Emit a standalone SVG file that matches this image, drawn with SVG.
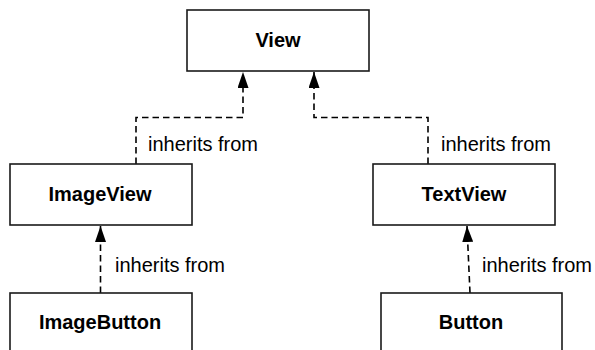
<svg xmlns="http://www.w3.org/2000/svg" width="595" height="350" viewBox="0 0 595 350">
<style>
.box{fill:#fff;stroke:#1a1a1a;stroke-width:1.6}
.name{font-family:"Liberation Sans",Arial,sans-serif;font-weight:bold;font-size:20px;fill:#000;text-anchor:middle}
.lbl{font-family:"Liberation Sans",Arial,sans-serif;font-size:20px;fill:#000}
.edge{fill:none;stroke:#000;stroke-width:1.6;stroke-dasharray:6.5,4}
</style>
<defs>
<marker id="ah" markerUnits="userSpaceOnUse" viewBox="0 0 16 11" markerWidth="16" markerHeight="11" refX="16" refY="5.5" orient="auto">
<path d="M0,0 L16,5.5 L0,11 z" fill="#000"/>
</marker>
</defs>
<rect width="595" height="350" fill="#fff"/>
<g id="connectors">
<path class="edge" d="M136,164 V117.5 H243 V72" marker-end="url(#ah)"/>
<path class="edge" d="M428,164 V117.5 H314 V72" marker-end="url(#ah)"/>
<path class="edge" d="M100.5,293 V226" marker-end="url(#ah)"/>
<path class="edge" d="M470,293 L467,226" marker-end="url(#ah)"/>
<text class="lbl" x="148" y="151">inherits from</text>
<text class="lbl" x="441" y="151">inherits from</text>
<text class="lbl" x="115" y="272">inherits from</text>
<text class="lbl" x="482" y="272">inherits from</text>
</g>
<g id="View">
<rect class="box" x="187" y="10" width="182" height="61"/>
<text class="name" x="278" y="47">View</text>
</g>
<g id="ImageView">
<rect class="box" x="10" y="164" width="182" height="61"/>
<text class="name" x="100" y="201">ImageView</text>
</g>
<g id="TextView">
<rect class="box" x="373" y="164" width="182" height="61"/>
<text class="name" x="464" y="201">TextView</text>
</g>
<g id="ImageButton">
<rect class="box" x="10" y="293" width="182" height="70"/>
<text class="name" x="100" y="329">ImageButton</text>
</g>
<g id="Button">
<rect class="box" x="381" y="293" width="181" height="70"/>
<text class="name" x="471" y="329">Button</text>
</g>
</svg>
